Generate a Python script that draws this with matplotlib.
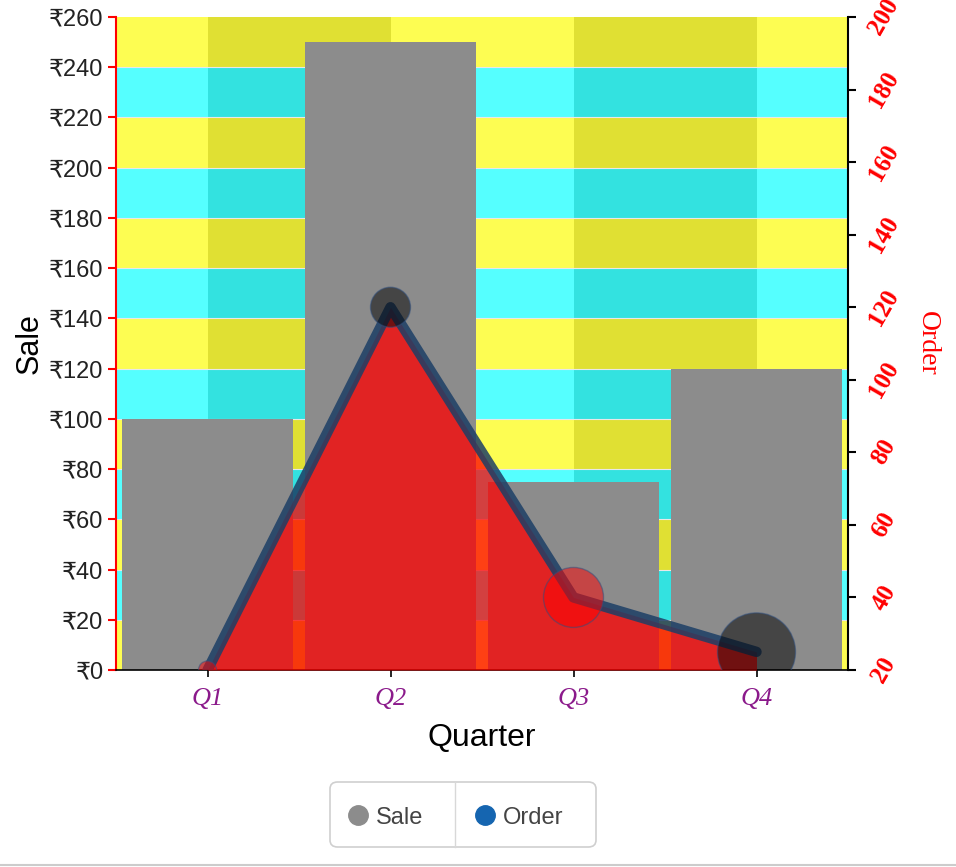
import matplotlib.pyplot as plt
import numpy as np
from matplotlib.patches import Rectangle, FancyBboxPatch
from matplotlib.lines import Line2D

# Data
quarters = ['Q1', 'Q2', 'Q3', 'Q4']
sales = [100, 250, 75, 120]
orders = [20, 120, 40, 25]
bubble_r = [9, 20, 30, 39]          # bubble radius, px
sale_ticks = list(range(0, 261, 20))
order_ticks = list(range(20, 201, 20))

W, H = 956, 867
SANS = ['Liberation Sans', 'DejaVu Sans']
SERIF = ['Liberation Serif', 'DejaVu Serif']

fig = plt.figure(figsize=(W / 100, H / 100), dpi=100)
ax = fig.add_axes([116 / W, 1 - 670 / H, 732 / W, 653 / H])
x = np.arange(len(quarters))
ax.set_xlim(-0.5, len(quarters) - 0.5)
ax.set_ylim(sale_ticks[0], sale_ticks[-1])

# striped background + darker column bands
light = ['#FDFD52', '#55FFFF']
dark = ['#E0E033', '#33E2E0']
for i in range(len(sale_ticks) - 1):
    y0, y1 = sale_ticks[i], sale_ticks[i + 1]
    ax.add_patch(Rectangle((-0.5, y0), len(quarters), y1 - y0, color=light[i % 2], lw=0, zorder=0))
    for c in range(0, len(quarters), 2):
        ax.add_patch(Rectangle((c, y0), 1, y1 - y0, color=dark[i % 2], lw=0, zorder=0.1))
    ax.axhline(y0, color='#E8E8E8', lw=0.8, zorder=0.2)

ax.bar(x, sales, width=0.934, color='#8C8C8C', zorder=2)

ax.set_yticks(sale_ticks)
ax.set_yticklabels([f'₹{v}' for v in sale_ticks], family=SANS, fontsize=17, color='#222222')
ax.set_xticks(x)
ax.set_xticklabels(quarters, family=SERIF, style='italic', fontsize=19, color='#8B1A8B')
ax.tick_params(axis='y', colors='red', length=6, width=1.5, labelcolor='#222222', pad=3)
ax.tick_params(axis='x', length=5, width=1.2, pad=8)
for s in ['top', 'right']:
    ax.spines[s].set_visible(False)
ax.spines['left'].set_color('red')
ax.spines['left'].set_linewidth(1.5)
ax.spines['bottom'].set_linewidth(1.2)
ax.set_ylabel('Sale', family=SANS, fontsize=22, labelpad=3)
ax.set_xlabel('Quarter', family=SANS, fontsize=23, labelpad=9)

# Order series on right axis
ax2 = ax.twinx()
ax2.set_ylim(order_ticks[0], order_ticks[-1])
ax2.fill_between(x, order_ticks[0], orders, color='#FF0000', alpha=0.75, lw=0, zorder=1)
ax2.plot(x, orders, color='#1C3F66', lw=7.5, alpha=0.85, solid_capstyle='round',
         solid_joinstyle='round', zorder=2)
bub_colors = ['#FF0000', '#000000', '#FF0000', '#000000']
sizes = [(2 * r * 0.72) ** 2 for r in bubble_r]
ax2.scatter(x, orders, s=sizes, c=bub_colors, alpha=0.5, edgecolors='#2F4F7F', linewidths=1, zorder=3)

ax2.set_yticks(order_ticks)
ax2.set_yticklabels([str(v) for v in order_ticks], family=SERIF, weight='bold', fontsize=18,
                    color='red', rotation=60, va='center', ha='center')
ax2.tick_params(axis='y', length=6, width=1.5, pad=20)
for s in ['top', 'left', 'bottom']:
    ax2.spines[s].set_visible(False)
ax2.spines['right'].set_linewidth(1.5)
ax2.set_ylabel('Order', family=SERIF, fontsize=20, color='red', rotation=-90, labelpad=26)

# Legend box
fig.patches.append(FancyBboxPatch((330 / W, 1 - 847 / H), 266 / W, 65 / H,
                                  boxstyle='round,pad=0,rounding_size=0.008', transform=fig.transFigure,
                                  facecolor='white', edgecolor='#CFCFCF', lw=1.2))
fig.lines.append(Line2D([455 / W, 455 / W], [1 - 847 / H, 1 - 782 / H], transform=fig.transFigure,
                        color='#D8D8D8', lw=1))
ly = 1 - 815 / H
fig.lines.append(Line2D([358 / W], [ly], transform=fig.transFigure, marker='o', ms=14,
                        color='#8C8C8C', mec='#8C8C8C'))
fig.text(376 / W, ly, 'Sale', family=SANS, fontsize=17, color='#444444', va='center_baseline')
fig.lines.append(Line2D([485 / W], [ly], transform=fig.transFigure, marker='o', ms=14,
                        color='#1565B0', mec='#1565B0'))
fig.text(503 / W, ly, 'Order', family=SANS, fontsize=17, color='#444444', va='center_baseline')

fig.lines.append(Line2D([0, 1], [1 - 865 / H, 1 - 865 / H], transform=fig.transFigure,
                        color='#CCCCCC', lw=1.5))

fig.savefig('out.png', dpi=100)
